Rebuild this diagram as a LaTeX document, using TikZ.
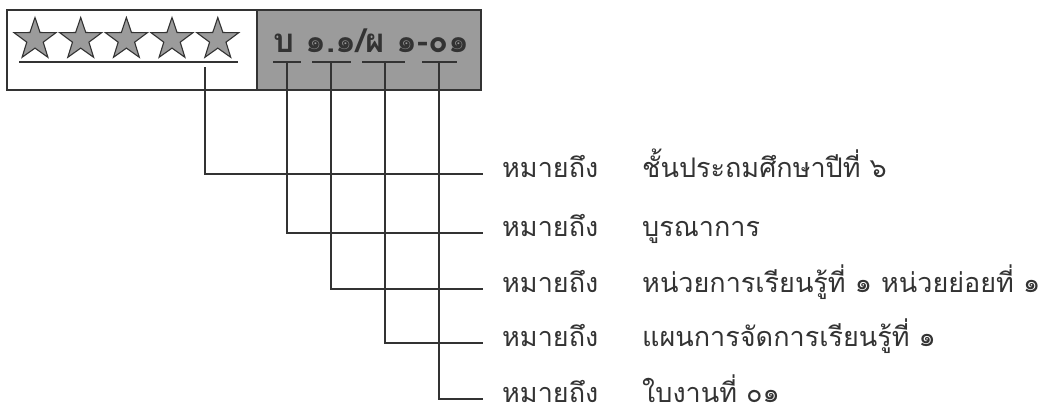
\documentclass[tikz,border=0pt]{standalone}
\usepackage{fontspec}
\usetikzlibrary{shapes.geometric}
\newfontfamily\thaifont[Script=Thai]{Loma}
\definecolor{ink}{HTML}{333333}
\definecolor{boxgray}{HTML}{9B9B9B}
\tikzset{
  starshape/.style={star, star points=5, star point ratio=2.55, minimum size=44pt, inner sep=0pt, fill=boxgray, draw=ink, line width=1.1pt},
  conn/.style={draw=ink, line width=1.3pt},
  uline/.style={draw=ink, line width=1.3pt},
  lbl/.style={anchor=base west, inner sep=0pt, text=ink, font=\thaifont\fontsize{27}{30}\selectfont},
  code/.style={anchor=base west, inner sep=0pt, text=ink, font=\thaifont\bfseries\fontsize{33}{36}\selectfont}
}
\begin{document}
\begin{tikzpicture}[x=1pt,y=-1pt]
\useasboundingbox (0,0) rectangle (1039,408);
\fill[white] (0,0) rectangle (1039,408);
% box
\fill[boxgray] (257,10) rectangle (481,90);
\draw[ink, line width=2.7pt] (7,10) rectangle (481,90);
\draw[ink, line width=2.7pt] (257,10) -- (257,90);
% stars
\foreach \i/\x in {1/35,2/80.7,3/126.4,4/172,5/217.8}{
  \node[starshape] (s\i) at (\x,39.5) {};
}
\node[code] (hdr) at (273,52) {บ ๑.๑/ผ ๑-๐๑};
% underlines
\coordinate (a0) at (19,62); \coordinate (b0) at (238,62);
\coordinate (a1) at (273,62); \coordinate (b1) at (301,62);
\coordinate (a2) at (312,62); \coordinate (b2) at (351,62);
\coordinate (a3) at (362,62); \coordinate (b3) at (405,62);
\coordinate (a4) at (422,62); \coordinate (b4) at (457,62);
\foreach \i in {0,...,4}{ \draw[uline] (a\i) -- (b\i); }
% connector tops
\coordinate (t1) at (205,67);
\coordinate (t2) at (287,62);
\coordinate (t3) at (331,62);
\coordinate (t4) at (385,62);
\coordinate (t5) at (439,62);
% labels
\foreach \i/\y/\txt in {1/177/ชั้นประถมศึกษาปีที่ ๖, 2/236/บูรณาการ, 3/292/หน่วยการเรียนรู้ที่ ๑ หน่วยย่อยที่ ๑, 4/346/แผนการจัดการเรียนรู้ที่ ๑, 5/402/ใบงานที่ ๐๑}{
  \node[lbl] (m\i) at (502,\y) {หมายถึง};
  \node[lbl] (d\i) at (642,\y) {\txt};
  \coordinate (e\i) at ([xshift=-19pt,yshift=3pt]m\i.base west);
  \draw[conn] (t\i) |- (e\i);
}
\end{tikzpicture}
\end{document}
